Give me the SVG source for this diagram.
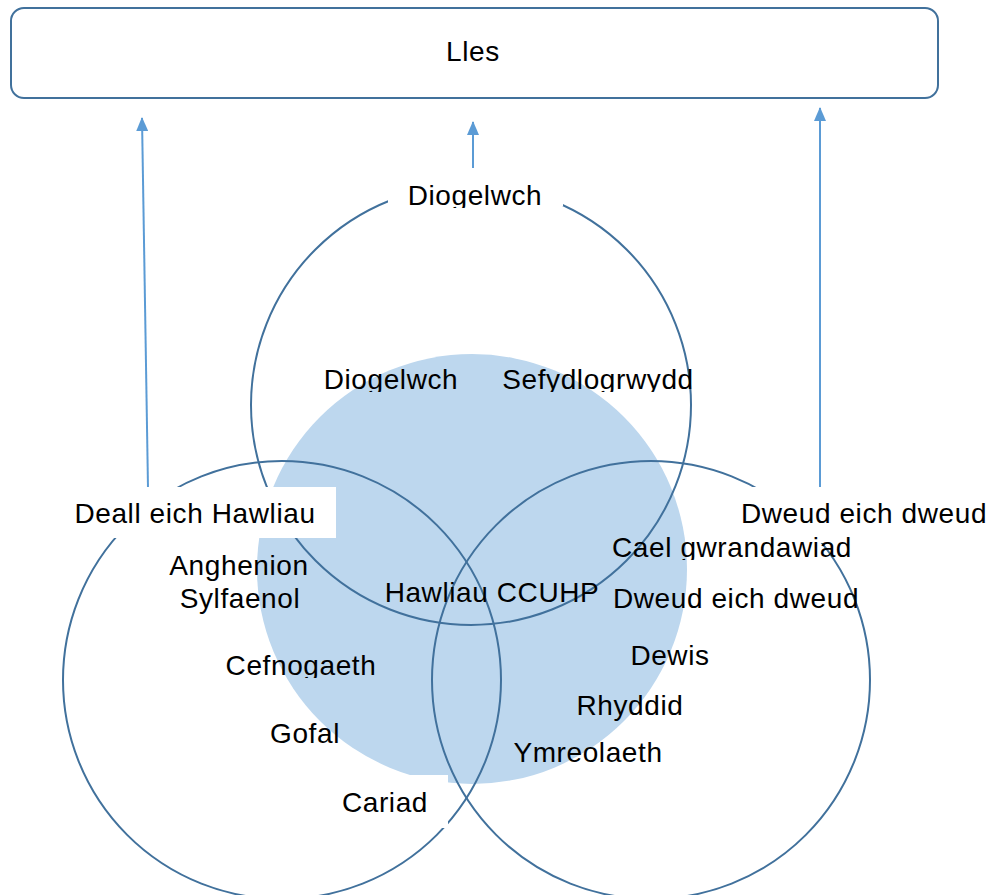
<svg xmlns="http://www.w3.org/2000/svg" width="992" height="895" viewBox="0 0 992 895">
<style>
.ring{fill:none;stroke:#41719C;stroke-width:2}
.lbl{font-family:"Liberation Sans",Arial,sans-serif;font-size:28px;letter-spacing:0.6px;fill:#000;text-anchor:middle}
.mask{fill:#fff;stroke:none}
.arr{stroke:#5B9BD5;stroke-width:2;fill:none;marker-end:url(#ah)}
</style>
<defs>
<marker id="ah" viewBox="0 0 14 12" refX="13" refY="6" markerWidth="14" markerHeight="12" markerUnits="userSpaceOnUse" orient="auto">
<path d="M0,0 L14,6 L0,12 Z" fill="#5B9BD5"/>
</marker>
<clipPath id="c1" clipPathUnits="userSpaceOnUse"><rect x="0" y="0" width="992" height="208"/></clipPath>
<clipPath id="c2" clipPathUnits="userSpaceOnUse"><rect x="0" y="0" width="992" height="392"/></clipPath>
<clipPath id="c3" clipPathUnits="userSpaceOnUse"><rect x="0" y="0" width="992" height="678"/></clipPath>
<clipPath id="c4" clipPathUnits="userSpaceOnUse"><rect x="0" y="0" width="992" height="560"/></clipPath>
</defs>

<g id="lles">
<rect x="11" y="8" width="927" height="90" rx="13" ry="13" class="ring"/>
<text class="lbl" x="473" y="61">Lles</text>
</g>

<g id="connectors">
<line class="arr" x1="148" y1="488" x2="142" y2="118"/>
<line class="arr" x1="473" y1="168" x2="473" y2="122"/>
<line class="arr" x1="820" y1="488" x2="820" y2="108"/>
</g>

<g id="core">
<circle cx="472" cy="569" r="215" fill="#BDD7EE"/>
</g>

<g id="circle-top"><circle class="ring" cx="471" cy="405" r="220"/></g>
<g id="circle-left"><circle class="ring" cx="282" cy="680" r="219"/></g>
<g id="circle-right"><circle class="ring" cx="651" cy="680" r="219"/></g>

<g id="masks">
<rect class="mask" x="388" y="168" width="175" height="38"/>
<rect class="mask" x="65" y="487" width="271" height="51"/>
<rect class="mask" x="735" y="487" width="257" height="56"/>
<rect class="mask" x="330" y="775" width="118" height="53"/>
</g>

<g id="label-diogelwch-top"><text class="lbl" x="475" y="205" clip-path="url(#c1)">Diogelwch</text></g>
<g id="label-deall"><text class="lbl" x="195" y="523">Deall eich Hawliau</text></g>
<g id="label-dweud-right"><text class="lbl" x="864" y="523">Dweud eich dweud</text></g>

<g id="item-diogelwch"><text class="lbl" x="391" y="389" clip-path="url(#c2)">Diogelwch</text></g>
<g id="item-sefydlogrwydd"><text class="lbl" x="598" y="389" clip-path="url(#c2)">Sefydlogrwydd</text></g>
<g id="item-anghenion"><text class="lbl" x="239" y="575">Anghenion</text><text class="lbl" x="240" y="608">Sylfaenol</text></g>
<g id="item-cefnogaeth"><text class="lbl" x="301" y="675" clip-path="url(#c3)">Cefnogaeth</text></g>
<g id="item-gofal"><text class="lbl" x="305" y="743">Gofal</text></g>
<g id="item-cariad"><text class="lbl" x="385" y="812">Cariad</text></g>
<g id="item-hawliau"><text class="lbl" x="492" y="602">Hawliau CCUHP</text></g>
<g id="item-cael"><text class="lbl" x="732" y="557" clip-path="url(#c4)">Cael gwrandawiad</text></g>
<g id="item-dweud"><text class="lbl" x="736" y="608">Dweud eich dweud</text></g>
<g id="item-dewis"><text class="lbl" x="670" y="665">Dewis</text></g>
<g id="item-rhyddid"><text class="lbl" x="630" y="715">Rhyddid</text></g>
<g id="item-ymreolaeth"><text class="lbl" x="588" y="762">Ymreolaeth</text></g>
</svg>
